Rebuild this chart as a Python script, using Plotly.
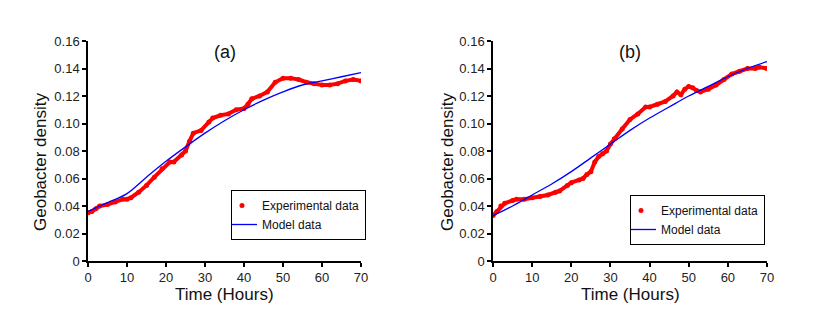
import plotly.graph_objects as go

# ---- data ----
time_a = [0, 1, 2, 3, 5, 7, 9, 10, 11, 13, 15, 17, 19, 21, 22, 24, 25, 26, 27, 29, 31, 32, 34, 36,
          38, 40, 41, 42, 44, 46, 48, 50, 52, 54, 56, 58, 60, 62, 64, 66, 68, 70]
exp_a = [0.035, 0.036, 0.038, 0.040, 0.041, 0.043, 0.045, 0.045, 0.046, 0.050, 0.055, 0.061, 0.067,
         0.072, 0.072, 0.077, 0.080, 0.087, 0.093, 0.095, 0.101, 0.104, 0.106, 0.107, 0.110, 0.111,
         0.114, 0.118, 0.120, 0.123, 0.130, 0.133, 0.133, 0.132, 0.130, 0.129, 0.128, 0.128, 0.129,
         0.131, 0.132, 0.131]
model_t = [0, 5, 10, 15, 20, 25, 30, 35, 40, 45, 50, 55, 60, 65, 70]
model_a = [0.036, 0.0425, 0.049, 0.061, 0.0725, 0.083, 0.093, 0.102, 0.110, 0.117, 0.123, 0.128,
           0.131, 0.134, 0.137]

time_b = [0, 1, 2, 3, 5, 6, 8, 10, 12, 14, 16, 17, 19, 20, 22, 23, 24, 25, 26, 27, 28, 29, 30, 31,
          33, 35, 37, 39, 40, 42, 44, 46, 47, 48, 49, 50, 51, 52, 53, 55, 57, 59, 61, 63, 65, 67, 68, 70]
exp_b = [0.033, 0.036, 0.040, 0.042, 0.044, 0.045, 0.045, 0.046, 0.047, 0.048, 0.050, 0.051, 0.055,
         0.057, 0.059, 0.060, 0.063, 0.065, 0.072, 0.076, 0.078, 0.080, 0.085, 0.089, 0.096, 0.103,
         0.107, 0.112, 0.112, 0.114, 0.116, 0.120, 0.123, 0.121, 0.125, 0.127, 0.126, 0.124, 0.123,
         0.125, 0.128, 0.132, 0.136, 0.138, 0.140, 0.140, 0.141, 0.140]
model_b = [0.033, 0.040, 0.048, 0.056, 0.065, 0.075, 0.085, 0.095, 0.104, 0.112, 0.120, 0.127,
           0.134, 0.140, 0.145]

y_ticks = [0, 0.02, 0.04, 0.06, 0.08, 0.10, 0.12, 0.14, 0.16]
y_labels = ["0", "0.02", "0.04", "0.06", "0.08", "0.10", "0.12", "0.14", "0.16"]
x_ticks = [0, 10, 20, 30, 40, 50, 60, 70]
panel_titles = ["(a)", "(b)"]

FONT = "Arial, Liberation Sans, sans-serif"
W, H = 819, 316
RED = "#ff0000"
BLUE = "#0000ff"

fig = go.Figure()

panels = [
    (time_a, exp_a, model_a, "x", "y", "legend"),
    (time_b, exp_b, model_b, "x2", "y2", "legend2"),
]
for t, e, m, xa, ya, lg in panels:
    fig.add_trace(go.Scatter(x=t, y=e, mode="lines", line=dict(color=RED, width=4),
                             xaxis=xa, yaxis=ya, showlegend=False, hoverinfo="skip"))
    fig.add_trace(go.Scatter(x=t, y=e, mode="markers", marker=dict(color=RED, size=5),
                             name="Experimental data", xaxis=xa, yaxis=ya, legend=lg))
    fig.add_trace(go.Scatter(x=model_t, y=m, mode="lines",
                             line=dict(color=BLUE, width=1.3, shape="spline"),
                             name="Model data", xaxis=xa, yaxis=ya, legend=lg))

# pixel geometry
ax_a = (88, 361)
ax_b = (493, 767)
y_top, y_bot = 41, 261

def xd(p):
    return [p[0] / W, p[1] / W]

yd = [(H - y_bot) / H, (H - y_top) / H]

axis_common = dict(showline=True, linecolor="black", linewidth=1.5, ticks="outside",
                   ticklen=4, tickwidth=1.5, tickcolor="black", showgrid=False, zeroline=False,
                   tickfont=dict(family=FONT, size=13, color="#222"), mirror=False,
                   automargin=False)

leg_common = dict(xanchor="left", yanchor="top", bordercolor="black", borderwidth=1,
                  bgcolor="white", font=dict(family=FONT, size=12, color="#111"),
                  itemwidth=30, tracegroupgap=0, indentation=-10)

fig.update_layout(
    template="none",
    width=W, height=H, margin=dict(l=0, r=0, t=0, b=0, pad=0, autoexpand=False),
    paper_bgcolor="white", plot_bgcolor="white",
    font=dict(family=FONT, color="#222"),
    xaxis=dict(domain=xd(ax_a), range=[0, 70], tickvals=x_ticks, anchor="y", **axis_common),
    yaxis=dict(domain=yd, range=[0, 0.16], tickvals=y_ticks, ticktext=y_labels, anchor="x",
               **axis_common),
    xaxis2=dict(domain=xd(ax_b), range=[0, 70], tickvals=x_ticks, anchor="y2", **axis_common),
    yaxis2=dict(domain=yd, range=[0, 0.16], tickvals=y_ticks, ticktext=y_labels, anchor="x2",
                **axis_common),
    legend=dict(x=231 / W, y=(H - 190) / H, **leg_common),
    legend2=dict(x=630 / W, y=(H - 195) / H, **leg_common),
)

annotations = []
ann_common = dict(xref="paper", yref="paper", showarrow=False, xanchor="center",
                  yanchor="middle")
for (x0, x1), title in zip([ax_a, ax_b], panel_titles):
    cx = (x0 + x1) / 2
    annotations.append(dict(text=title, x=cx / W, y=(H - 52) / H,
                            font=dict(family=FONT, size=18, color="#111"), **ann_common))
    annotations.append(dict(text="Time (Hours)", x=cx / W, y=(H - 294) / H,
                            font=dict(family=FONT, size=17, color="#111"), **ann_common))
for xpix in (40, 447):
    annotations.append(dict(text="Geobacter density", x=xpix / W, y=(H - 162) / H,
                            textangle=-90, font=dict(family=FONT, size=17, color="#111"),
                            **ann_common))
fig.update_layout(annotations=annotations)

fig.write_html("out.html", config={"displayModeBar": False},
               post_script="document.body.style.margin='0';"
                           "document.documentElement.style.overflow='hidden';")
